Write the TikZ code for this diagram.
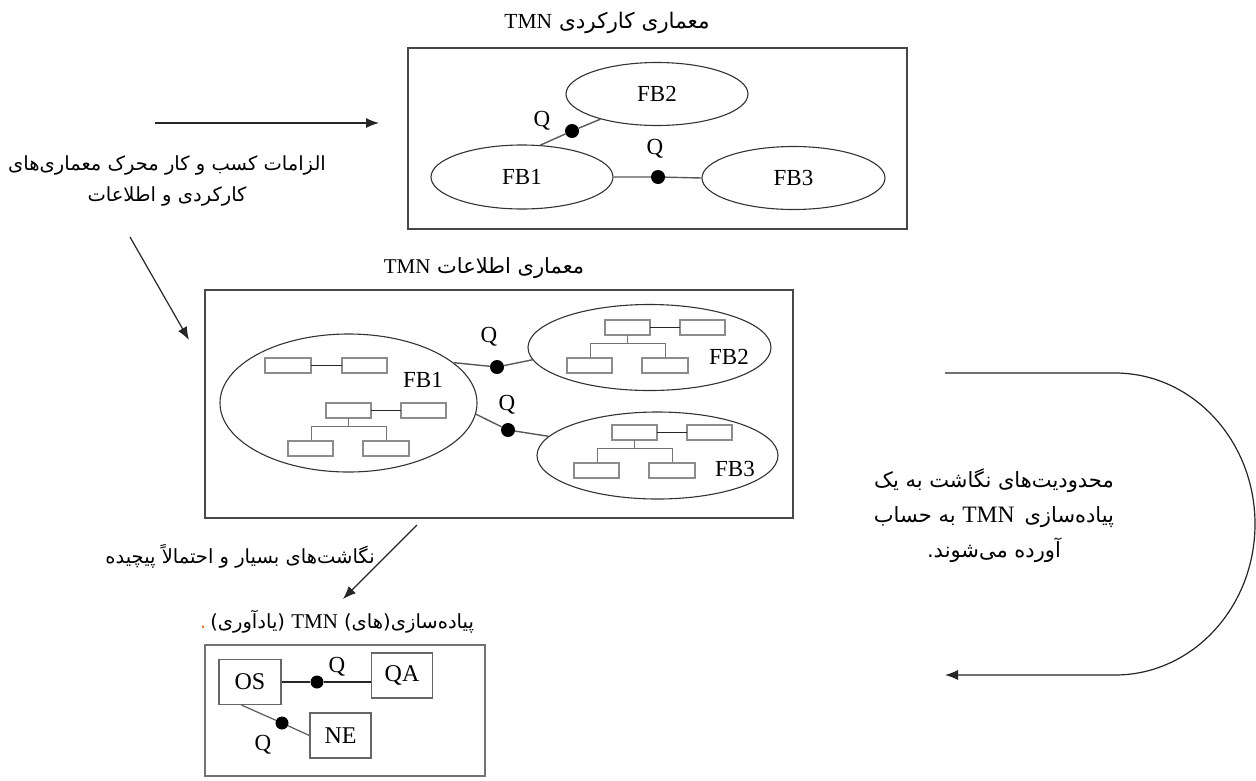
\documentclass[tikz,border=0pt]{standalone}
\usepackage{fontspec}
\setmainfont{Liberation Serif}
\newfontfamily\fa[Script=Arabic]{DejaVu Sans}
\TeXXeTstate=1
\usetikzlibrary{shapes.geometric,arrows.meta}
\definecolor{dotorange}{RGB}{224,120,40}
\newcommand\LatinTxt[1]{\beginL{\rmfamily #1}\endL}
\begin{document}
\begin{tikzpicture}[x=1pt,y=-1pt,
  framebox/.style={draw=black!72,line width=1.3pt,rectangle,inner sep=0pt},
  fbell/.style={ellipse,draw=black!80,line width=1.1pt,inner sep=0pt},
  qdot/.style={circle,fill=black,inner sep=0pt,minimum size=14pt},
  conn/.style={draw=black!65,line width=1.4pt},
  arr/.style={draw=black!85,line width=1.2pt,-{Latex[length=13pt,width=10pt]}},
  lat/.style={font=\fontsize{23}{27}\selectfont,text=black,inner sep=0pt},
  fatxt/.style={font=\fa\fontsize{19.5}{31}\selectfont,text=black,inner sep=0pt,align=center},
  rbox/.style={draw=black!45,line width=1.4pt},
  link/.style={draw=black!85,line width=1pt},
  tline/.style={draw=black!55,line width=1pt},
  unit/.style={rectangle,draw=black!60,line width=1.2pt,minimum width=61pt,minimum height=45pt,inner sep=0pt,font=\fontsize{24}{28}\selectfont},
  tree/.pic={
    \draw[rbox] (0,0) rectangle (45,15);
    \draw[rbox] (75,0) rectangle (120,15);
    \draw[link] (45,7.5) -- (75,7.5);
    \draw[tline] (22,15) -- (22,23) (-15,38) -- (-15,23) -- (60,23) -- (60,38);
    \draw[rbox] (-38,38) rectangle (7,53);
    \draw[rbox] (37,38) rectangle (83,53);
  }
]
\useasboundingbox (0,0) rectangle (1256,780);
\fill[white] (0,0) rectangle (1256,780);

% ---------- top: functional architecture ----------
\node[fatxt,font=\fa\fontsize{21.5}{26}\selectfont] (t1) at (607,23) {\beginR معماری کارکردی \LatinTxt{\fontsize{21.5}{25}\selectfont TMN}\endR};
\node[framebox,minimum width=499pt,minimum height=181pt] (topbox) at (657.5,138.5) {};
\node[fbell,minimum width=182pt,minimum height=63pt,lat] (fb2a) at (657,94) {FB2};
\node[fbell,minimum width=182pt,minimum height=64pt,lat] (fb1a) at (522,177) {FB1};
\node[fbell,minimum width=183pt,minimum height=63pt,lat] (fb3a) at (793.5,178) {FB3};
\node[qdot] (qa1) at (572,131) {};
\node[qdot] (qa2) at (658,177) {};
\draw[conn] (fb1a.60) -- (qa1) -- (fb2a.204);
\draw[conn] (fb1a.east) -- (qa2) -- (fb3a.west);
\node[lat] (qla1) at (542,121) {Q};
\node[lat] (qla2) at (655,149) {Q};

% ---------- left requirement text and arrows ----------
\coordinate (a1s) at (155,123);
\coordinate (a1e) at (379,123);
\draw[arr] (a1s) -- (a1e);
\node[fatxt] (req) at (167,181) {\beginR الزامات کسب و کار محرک معماری‌های\endR\\\beginR کارکردی و اطلاعات\endR};
\coordinate (a2s) at (130,237);
\coordinate (a2e) at (189,340);
\draw[arr] (a2s) -- (a2e);

% ---------- middle: information architecture ----------
\node[fatxt,font=\fa\fontsize{21}{26}\selectfont] (t2) at (484,268) {\beginR معماری اطلاعات \LatinTxt{\fontsize{21}{25}\selectfont TMN}\endR};
\node[framebox,minimum width=588pt,minimum height=228pt] (midbox) at (499,404) {};
\node[fbell,minimum width=257pt,minimum height=138pt] (fb1b) at (348.5,403) {};
\node[fbell,minimum width=243pt,minimum height=86pt] (fb2b) at (649.5,347.5) {};
\node[fbell,minimum width=241pt,minimum height=87pt] (fb3b) at (657.5,455.5) {};
% FB1 contents
\draw[rbox] (265,358) rectangle (311,373);
\draw[rbox] (342,358) rectangle (387,373);
\draw[link] (311,365.5) -- (342,365.5);
\pic at (326,403) {tree};
\pic at (605,320) {tree};
\pic at (612,425) {tree};
\node[lat] (l1) at (423,380) {FB1};
\node[lat] (l2) at (729,357) {FB2};
\node[lat] (l3) at (735,469) {FB3};
\node[qdot] (qb1) at (497,367) {};
\node[qdot] (qb2) at (508,430) {};
\draw[conn] (fb1b.21) -- (qb1) -- (fb2b.186);
\draw[conn] (fb1b.-5) -- (qb2) -- (fb3b.170);
\node[lat] (qlb1) at (489,337) {Q};
\node[lat] (qlb2) at (507,405) {Q};

% ---------- right constraint text and curved arrow ----------
\node[fatxt,font=\fa\fontsize{21}{35}\selectfont] (cons) at (994,516) {\beginR محدودیت‌های نگاشت به یک\endR\\\beginR پیاده‌سازی\hspace{10pt}\LatinTxt{\fontsize{23.5}{28}\selectfont TMN} به حساب\endR\\\beginR آورده می‌شوند.\endR};
\coordinate (c1) at (945,373);
\coordinate (c2) at (945,675);
\draw[arr] (c1) -- (1115,373) arc[start angle=90,end angle=-90,x radius=140pt,y radius=151pt] -- (c2);

% ---------- bottom: implementation ----------
\coordinate (a3s) at (417,525);
\coordinate (a3e) at (343,599);
\draw[arr] (a3s) -- (a3e);
\node[fatxt] (map) at (240,556) {\beginR نگاشت‌های بسیار و احتمالاً پیچیده\endR};
\node[fatxt] (t3) at (337,622) {\textcolor{dotorange}{.}\hspace{4pt}\beginR پیاده‌سازی(های) \LatinTxt{\fontsize{21}{25}\selectfont TMN} (یادآوری)\endR};
\node[framebox,draw=black!55,minimum width=280pt,minimum height=131pt] (botbox) at (345,710.5) {};
\node[unit,minimum width=62pt] (os) at (250,682) {OS};
\node[unit] (qa) at (402,675.5) {QA};
\node[unit] (ne) at (340.5,735.5) {NE};
\node[qdot,minimum size=13pt] (qc1) at (317,682) {};
\node[qdot,minimum size=13pt] (qc2) at (282,723) {};
\draw[link,line width=1.2pt] (os.east) -- (qc1) -- (qa.west |- os.east);
\draw[conn,line width=1.2pt] (os.250) -- (qc2) -- (ne.west);
\node[lat] (qlc1) at (337,667) {Q};
\node[lat] (qlc2) at (263,745) {Q};
\end{tikzpicture}
\end{document}
